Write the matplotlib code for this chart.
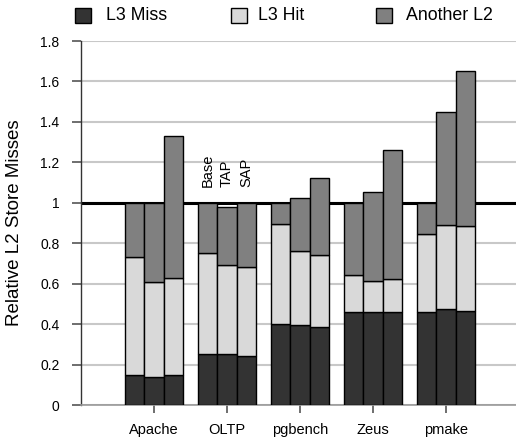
import matplotlib
matplotlib.use("Agg")
import matplotlib.pyplot as plt
from matplotlib.patches import Rectangle
import numpy as np

plt.rcParams['font.family'] = ['Liberation Sans', 'DejaVu Sans']

workloads = ["Apache", "OLTP", "pgbench", "Zeus", "pmake"]
configs = ["Base", "TAP", "SAP"]
series_names = ["L3 Miss", "L3 Hit", "Another L2"]

# segment heights, per workload: [Base, TAP, SAP]
l3_miss = [[0.15, 0.14, 0.15],
           [0.25, 0.25, 0.24],
           [0.40, 0.395, 0.385],
           [0.46, 0.46, 0.46],
           [0.46, 0.475, 0.465]]
l3_hit = [[0.58, 0.47, 0.48],
          [0.50, 0.44, 0.44],
          [0.495, 0.365, 0.355],
          [0.185, 0.155, 0.165],
          [0.385, 0.415, 0.42]]
another_l2 = [[0.27, 0.39, 0.70],
              [0.25, 0.29, 0.32],
              [0.105, 0.265, 0.385],
              [0.355, 0.44, 0.635],
              [0.155, 0.56, 0.765]]

colors = ["#333333", "#d9d9d9", "#808080"]

W, H = 516, 444
fig = plt.figure(figsize=(W/100, H/100), dpi=100)
ax = fig.add_axes([81/W, 1-405/H, 1-81/W, (405-41)/H])

x = np.arange(1, len(workloads)+1)
w = 0.8/3
offsets = [-w, 0, w]
miss = np.array(l3_miss); hit = np.array(l3_hit); oth = np.array(another_l2)
for j in range(3):
    xs = x + offsets[j]
    ax.bar(xs, miss[:, j], w, color=colors[0], edgecolor='black', linewidth=1.0, zorder=3)
    ax.bar(xs, hit[:, j], w, bottom=miss[:, j], color=colors[1], edgecolor='black', linewidth=1.0, zorder=3)
    ax.bar(xs, oth[:, j], w, bottom=miss[:, j]+hit[:, j], color=colors[2], edgecolor='black', linewidth=1.0, zorder=3)

ax.axhline(1.0, color='black', linewidth=2.2, zorder=2)

ax.set_xlim(0, 5.96)
ax.set_ylim(0, 1.8)
ax.set_yticks(np.arange(0, 1.81, 0.2))
ax.set_yticklabels(["0", "0.2", "0.4", "0.6", "0.8", "1", "1.2", "1.4", "1.6", "1.8"])
ax.set_xticks(x)
ax.set_xticklabels(workloads)
ax.yaxis.grid(True, color='#c8c8c8', linewidth=1.5, zorder=0)
ax.set_axisbelow(True)
for s in ['top', 'right']:
    ax.spines[s].set_visible(False)
ax.spines['bottom'].set_color('#999999')
ax.spines['bottom'].set_linewidth(1.2)
ax.spines['left'].set_color('#333333')
ax.spines['left'].set_linewidth(1.0)
ax.tick_params(axis='y', length=6.5, width=1.2, color='#555555', labelsize=10, pad=9)
ax.tick_params(axis='x', length=6, width=1.2, color='#555555', labelsize=10.5, pad=7)
ax.set_ylabel("Relative L2 Store Misses", fontsize=13.5)
ax.yaxis.set_label_coords(-58/435, 0.5)

for j, c in enumerate(configs):
    ax.text(x[1] + offsets[j], 1.08, c, rotation=90, ha='center', va='bottom', fontsize=10.5)

# legend row across the top
leg_sq_x = [75, 231, 376]
leg_tx_x = [106, 258, 406]
for k in range(3):
    fig.add_artist(Rectangle((leg_sq_x[k]/W, 1-23/H), 16/W, 15/H, transform=fig.transFigure,
                             facecolor=colors[k], edgecolor='black', linewidth=1.0))
    fig.text(leg_tx_x[k]/W, 1-16/H, series_names[k], ha='left', va='center', fontsize=12.8)

fig.savefig("out.png", dpi=100)
